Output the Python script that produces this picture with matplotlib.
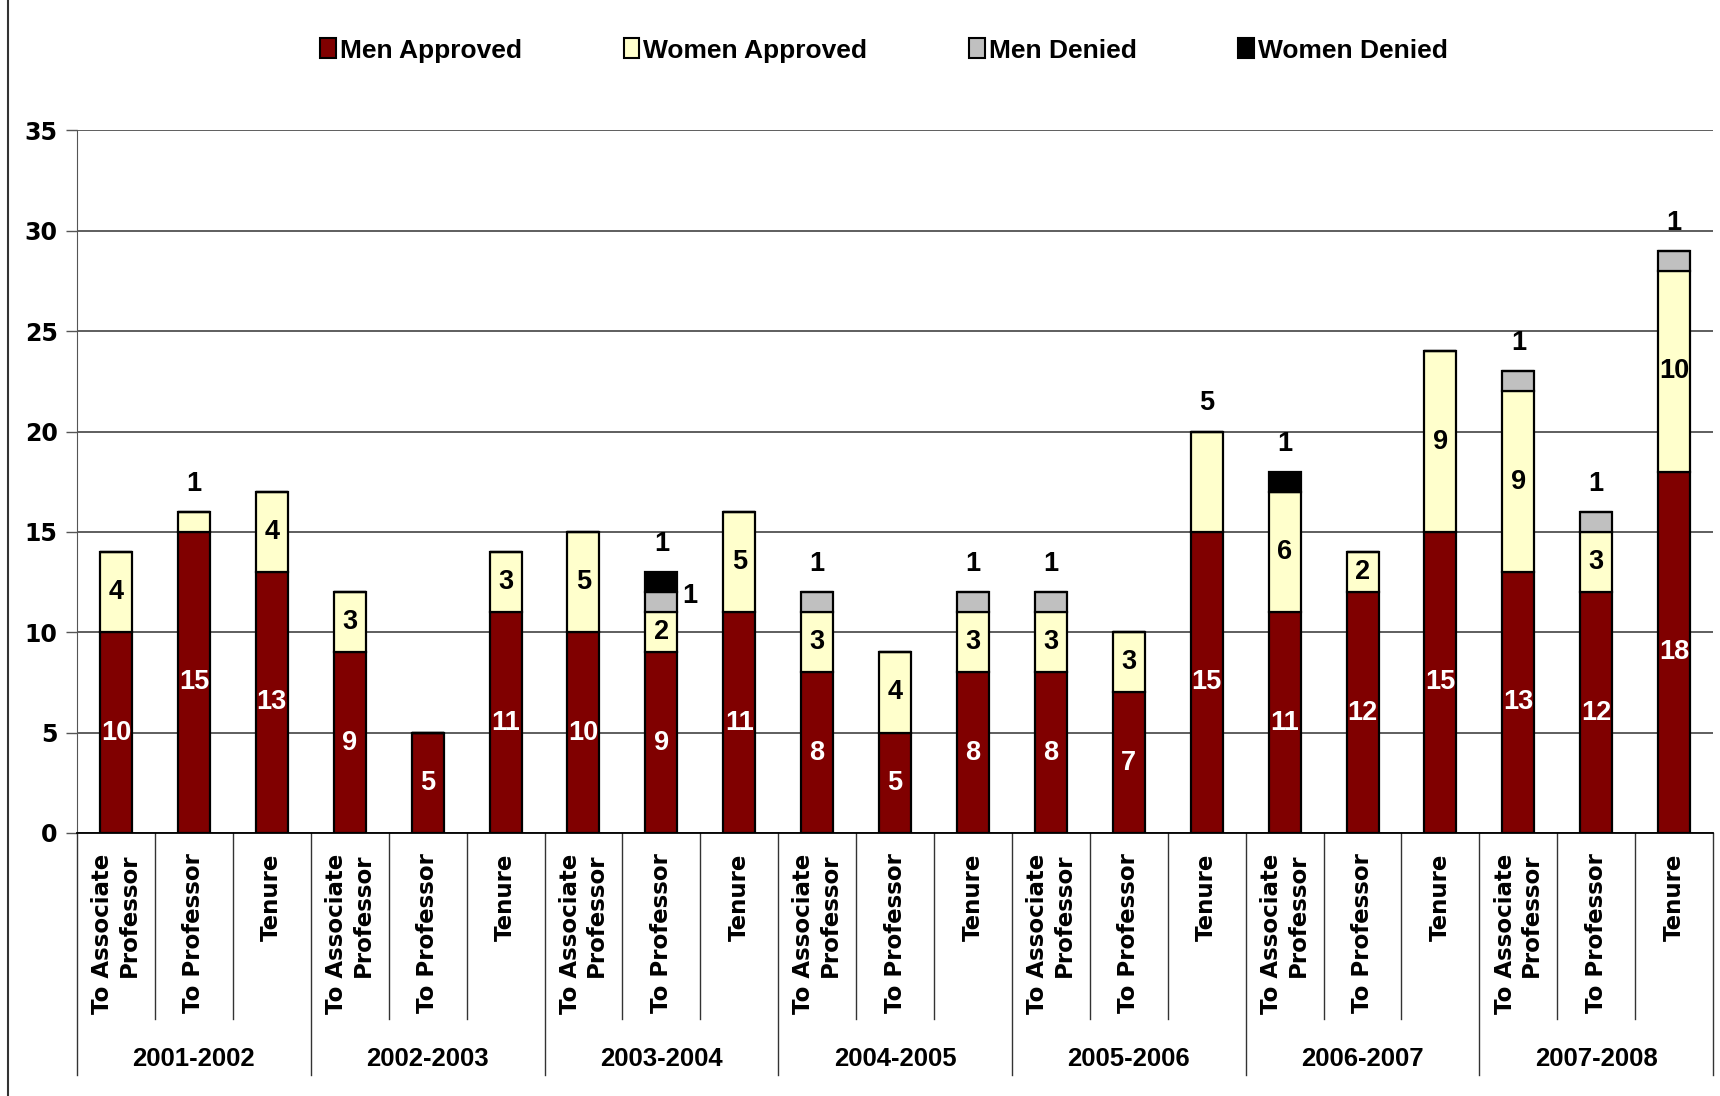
import matplotlib
matplotlib.use("Agg")
import matplotlib.pyplot as plt
from matplotlib.lines import Line2D
from matplotlib.patches import Patch
import numpy as np

years = ["2001-2002", "2002-2003", "2003-2004", "2004-2005", "2005-2006", "2006-2007", "2007-2008"]
categories = ["To Associate\nProfessor", "To Professor", "Tenure"]
series = ["Men Approved", "Women Approved", "Men Denied", "Women Denied"]

men_approved   = [10, 15, 13,  9, 5, 11, 10, 9, 11,  8, 5, 8,  8, 7, 15, 11, 12, 15, 13, 12, 18]
women_approved = [ 4,  1,  4,  3, 0,  3,  5, 2,  5,  3, 4, 3,  3, 3,  5,  6,  2,  9,  9,  3, 10]
men_denied     = [ 0,  0,  0,  0, 0,  0,  0, 1,  0,  1, 0, 1,  1, 0,  0,  0,  0,  0,  1,  1,  1]
women_denied   = [ 0,  0,  0,  0, 0,  0,  0, 1,  0,  0, 0, 0,  0, 0,  0,  1,  0,  0,  0,  0,  0]

colors = ["#800000", "#FFFFCC", "#C0C0C0", "#000000"]
# labels that Excel placed outside the bar (bar index, series index)
outside_labels = {(14, 1)}

BOLD = "Liberation Sans"
WIDE = "DejaVu Sans"

fig = plt.figure(figsize=(17.2, 10.96), dpi=100)
ax = fig.add_axes([0.0448, 0.240, 0.9512, 0.641])

n = len(men_approved)
x = np.arange(n)
width = 0.41
data = [men_approved, women_approved, men_denied, women_denied]
bottom = np.zeros(n)
for vals, c in zip(data, colors):
    v = np.array(vals, dtype=float)
    ax.bar(x, v, width, bottom=bottom, color=c, edgecolor="black", linewidth=1.6, zorder=3)
    bottom += v
totals = bottom

ax.set_xlim(-0.5, n - 0.5)
ax.set_ylim(0, 35)
ax.set_yticks(np.arange(0, 36, 5))
ax.yaxis.grid(True, color="#333333", linewidth=1.1, zorder=0)
for s in ["top", "right"]:
    ax.spines[s].set_visible(False)
ax.spines["left"].set_color("#555555")
ax.spines["bottom"].set_color("black")
ax.spines["bottom"].set_linewidth(1.3)
ax.tick_params(axis="y", length=8, width=1, color="#555555", pad=6)
ax.set_yticklabels([str(t) for t in range(0, 36, 5)], fontsize=17, fontweight="bold", family=WIDE)
ax.set_xticks([])

# segment labels
for i in range(n):
    base = 0.0
    above = []
    for si, vals in enumerate(data):
        v = vals[i]
        if v > 0:
            if v >= 2 and (i, si) not in outside_labels:
                ax.text(x[i], base + v / 2, str(v), ha="center", va="center",
                        fontsize=19.5, fontweight="bold", family=BOLD,
                        color="white" if si == 0 else "black", zorder=5)
            else:
                above.append((si, v, base))
        base += v
    for k, (si, v, b) in enumerate(above[::-1]):
        if k == 0:
            ax.text(x[i], totals[i] + 1.4, str(v), ha="center", va="center",
                    fontsize=19.5, fontweight="bold", family=BOLD, color="black", zorder=5)
        else:
            ax.text(x[i] + 0.36, b + v / 2 + 0.3, str(v), ha="center", va="center",
                    fontsize=19.5, fontweight="bold", family=BOLD, color="black", zorder=5)

# category axis
trans = ax.get_xaxis_transform()
ncat = len(categories)
for j in range(n + 1):
    xb = j - 0.5
    ybot = -0.345 if j % ncat == 0 else -0.265
    ax.add_line(Line2D([xb, xb], [0, ybot], transform=trans, color="#333333",
                       linewidth=1.0, clip_on=False))
for i in range(n):
    ax.text(x[i], -0.029, categories[i % ncat], transform=trans, rotation=90,
            ha="center", va="top", multialignment="right", fontsize=16.5,
            fontweight="bold", family=WIDE, linespacing=1.2)
for g, yr in enumerate(years):
    ax.text(g * ncat + 1, -0.322, yr, transform=trans, ha="center", va="center",
            fontsize=18.5, fontweight="bold", family=BOLD)

# legend
handles = [Patch(facecolor=c, edgecolor="black", linewidth=1.5) for c in colors]
leg = fig.legend(handles, series, loc="center", bbox_to_anchor=(0.514, 0.954), ncol=4,
                 frameon=False, handlelength=0.6, handleheight=0.8, handletextpad=0.15,
                 columnspacing=3.85, prop={"family": BOLD, "weight": "bold", "size": 19})

# figure left border
fig.add_artist(Line2D([0.0045, 0.0045], [0, 1], transform=fig.transFigure, color="#333333", linewidth=1.5))

fig.savefig("out.png", dpi=100)
